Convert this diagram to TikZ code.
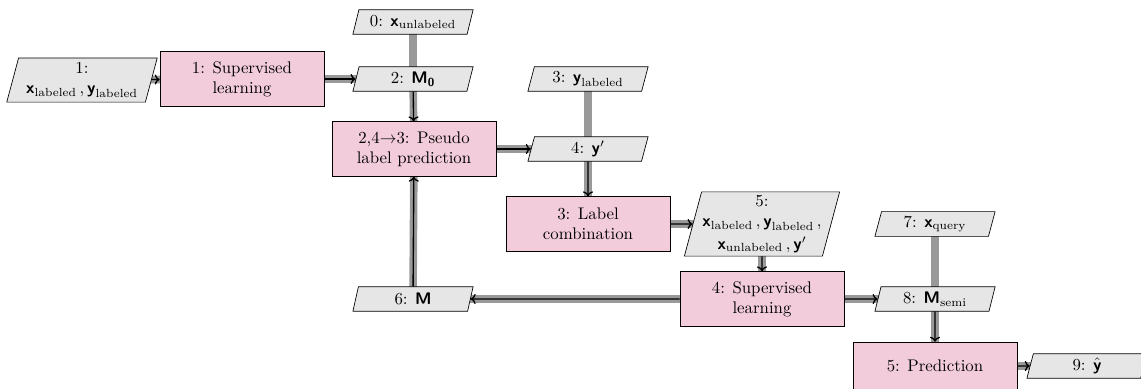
\documentclass[tikz,border=0pt]{standalone}
\usepackage{amsmath}
\usetikzlibrary{shapes.geometric,backgrounds,arrows.meta}

\definecolor{funcfill}{RGB}{242,204,218}
\definecolor{datafill}{RGB}{230,230,230}

% bold sans-serif symbols for data and models
\newcommand{\bsf}[1]{\text{\sffamily\bfseries #1}}

\tikzset{
  func/.style={draw, fill=funcfill, rectangle, align=center,
    minimum width=97.5pt, minimum height=32.5pt, inner sep=3pt},
  datanode/.style={draw, fill=datafill, trapezium,
    trapezium left angle=75, trapezium right angle=105,
    trapezium stretches body, align=center,
    minimum width=71.5pt, minimum height=14.5pt,
    inner xsep=4pt, inner ysep=2.5pt},
  graybar/.style={draw=black!40, line width=4.5pt},
  flowarrow/.style={draw=black, line width=0.8pt,
    -{To[length=3pt,width=6pt]}},
}

\begin{document}
\begin{tikzpicture}[x=0.595pt, y=-0.595pt]
\useasboundingbox (0,0) rectangle (1141,388);

% processing steps
\node[func] (sup1)   at (242,79)  {1: Supervised\\learning};
\node[func] (pseudo) at (414,149) {2,4$\rightarrow$3: Pseudo\\label prediction};
\node[func] (comb)   at (588,224) {3: Label\\combination};
\node[func] (sup4)   at (762,299) {4: Supervised\\learning};
\node[func, minimum height=28.5pt] (pred) at (935,366) {5: Prediction};

% data
\node[datanode, inner xsep=4.5pt] (in1) at (82,80) {1:\\$\bsf{x}_{\text{labeled}}\,, \bsf{y}_{\text{labeled}}$};
\node[datanode] (xun)   at (413,22)  {0: $\bsf{x}_{\text{unlabeled}}$};
\node[datanode] (M0)    at (413,79)  {2: $\bsf{M}_{\bsf{0}}$};
\node[datanode] (ylab)  at (588,79)  {3: $\bsf{y}_{\text{labeled}}$};
\node[datanode] (yp)    at (588,149) {4: $\bsf{y}'$};
\node[datanode, inner xsep=0.5pt, inner ysep=2pt] (data5) at (762,224) {5:\\$\bsf{x}_{\text{labeled}}\,, \bsf{y}_{\text{labeled}}\,,$\\[1.5pt]$\bsf{x}_{\text{unlabeled}}\,, \bsf{y}'$};
\node[datanode] (M6)    at (413,299) {6: $\bsf{M}$};
\node[datanode] (xq)    at (935,224) {7: $\bsf{x}_{\text{query}}$};
\node[datanode] (Msemi) at (935,299) {8: $\bsf{M}_{\text{semi}}$};
\node[datanode] (yhat)  at (1087,366) {9: $\hat{\bsf{y}}$};

% data connections
\begin{scope}[on background layer]
  \draw[graybar] (in1.center) -- (sup1.center);
  \draw[graybar] (sup1.center) -- (M0.center);
  \draw[graybar] (xun.center) -- (M0.center);
  \draw[graybar] (M0.center) -- (pseudo.center);
  \draw[graybar] (pseudo.center) -- (yp.center);
  \draw[graybar] (ylab.center) -- (yp.center);
  \draw[graybar] (yp.center) -- (comb.center);
  \draw[graybar] (comb.center) -- (data5.center);
  \draw[graybar] (data5.center) -- (sup4.center);
  \draw[graybar] (sup4.center) -- (M6.center);
  \draw[graybar] (M6.center) -- (pseudo.center);
  \draw[graybar] (sup4.center) -- (Msemi.center);
  \draw[graybar] (xq.center) -- (Msemi.center);
  \draw[graybar] (Msemi.center) -- (pred.center);
  \draw[graybar] (pred.center) -- (yhat.center);
\end{scope}

% process flow
\draw[flowarrow] (in1) -- (sup1);
\draw[flowarrow] (sup1) -- (M0);
\draw[flowarrow] (M0) -- (pseudo);
\draw[flowarrow] (pseudo) -- (yp);
\draw[flowarrow] (yp) -- (comb);
\draw[flowarrow] (comb) -- (data5);
\draw[flowarrow] (data5) -- (sup4);
\draw[flowarrow] (sup4) -- (M6);
\draw[flowarrow] (M6) -- (pseudo);
\draw[flowarrow] (sup4) -- (Msemi);
\draw[flowarrow] (Msemi) -- (pred);
\draw[flowarrow] (pred) -- (yhat);
\end{tikzpicture}
\end{document}
